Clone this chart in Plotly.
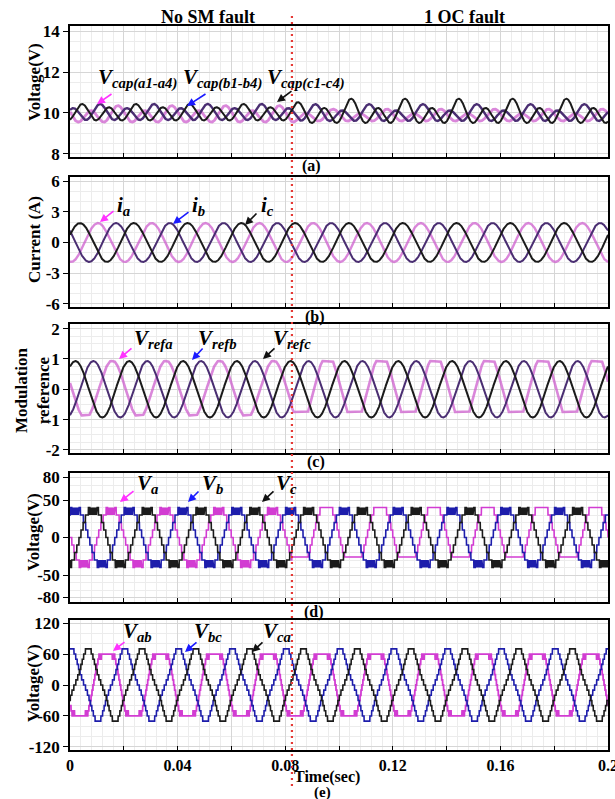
import numpy as np
import plotly.graph_objects as go

W, H = 615, 799

# ---------------- values ----------------
fundamental_hz = 50.0
time_span = [0.0, 0.2]
fault_time = 0.0825
x_tick_vals = [0.0, 0.02, 0.04, 0.06, 0.08, 0.10, 0.12, 0.14, 0.16, 0.18, 0.20]
x_tick_text = ["0", "", "0.04", "", "0.08", "", "0.12", "", "0.16", "", "0.2"]

# (a) SM capacitor voltages, V   [phase a, phase b, phase c]
cap_dc_pre = [9.9, 10.0, 10.0]
cap_dc_post = [9.85, 9.95, 10.0]
cap_peak_time = [0.0178, 0.0112, 0.0045]
cap_ripple_h1_pre = [0.12, 0.10, 0.08]
cap_ripple_h2_pre = [0.34, 0.34, 0.36]
cap_ripple_h1_post = [0.10, 0.15, 0.225]
cap_ripple_h2_post = [0.24, 0.33, 0.475]
cap_y_ticks = [8, 10, 12, 14]

# (b) currents, A   [ia, ib, ic]
current_peak = [1.9, 1.9, 1.9]
current_peak_time = [0.0104, 0.0171, 0.0037]
current_y_ticks = [-6, -3, 0, 3, 6]

# (c) modulation references   [a, b, c]
vref_peak_time = [0.0157, 0.0087, 0.0020]
vref_amp_pre = [0.95, 0.93, 0.93]
vref_amp_post = [1.15, 0.93, 0.93]
vref_max_pre = [0.93, 1.0, 1.0]
vref_min_pre = [-0.86, -1.0, -1.0]
vref_max_post = [0.93, 1.0, 1.0]
vref_min_post = [-0.75, -1.0, -1.0]
vref_y_ticks = [-2, -1, 0, 1, 2]

# (d) phase voltages, V   [Va, Vb, Vc]
phase_v_peak_time = [0.0153, 0.0020, 0.0087]
phase_v_amp_pre = [42, 42, 42]
phase_v_amp_post = [48, 42, 42]
phase_v_max_post = [40, 40, 40]
phase_v_min_post = [-26, -40, -40]
phase_v_block_post = [False, True, True]
phase_v_level_step = 10
phase_v_block_from = 38.5
phase_v_block_levels = [30, 40]
phase_v_y_ticks = [-80, -50, 0, 50, 80]

# (e) line voltages, V   [Vab, Vbc, Vca]
line_v_peak_time = [0.0137, 0.0204, 0.0068]
line_v_amp = [90, 72, 72]
line_v_limit = [60, 70, 70]
line_v_third = [0.0, 1 / 9, 1 / 9]
line_v_notch_band = [[62, 72], None, None]
line_v_notch_level = [50, None, None]
line_v_level_step = 10
line_v_y_ticks = [-120, -60, 0, 60, 120]

# ---------------- waveform construction ----------------
t = np.linspace(time_span[0], time_span[1], 4001)
w = 2 * np.pi * fundamental_hz
pre = t < fault_time
blend = np.clip((t - fault_time) / 0.006, 0, 1)
toggle = (np.arange(t.size) % 2 == 0)


def theta(tp):
    return w * (t - tp)


cap = []
for i in range(3):
    th = theta(cap_peak_time[i])
    v0 = cap_dc_pre[i] + cap_ripple_h1_pre[i] * np.cos(th) + cap_ripple_h2_pre[i] * np.cos(2 * th)
    v1 = cap_dc_post[i] + cap_ripple_h1_post[i] * np.cos(th) + cap_ripple_h2_post[i] * np.cos(2 * th)
    cap.append((1 - blend) * v0 + blend * v1)

cur = [current_peak[i] * np.cos(theta(current_peak_time[i])) for i in range(3)]

vref = []
for i in range(3):
    c = np.cos(theta(vref_peak_time[i]))
    v0 = np.clip(vref_amp_pre[i] * c, vref_min_pre[i], vref_max_pre[i])
    v1 = np.clip(vref_amp_post[i] * c, vref_min_post[i], vref_max_post[i])
    vref.append(np.where(pre, v0, v1))

phv = []
for i in range(3):
    c = np.cos(theta(phase_v_peak_time[i]))
    amp = np.where(pre, phase_v_amp_pre[i], phase_v_amp_post[i])
    x = amp * c
    v = phase_v_level_step * np.round(x / phase_v_level_step)
    v = np.clip(v, -phase_v_block_levels[1], phase_v_block_levels[1])
    blk = np.abs(x) > phase_v_block_from
    if not phase_v_block_post[i]:
        blk = blk & pre
    lev = np.where(toggle, phase_v_block_levels[0], phase_v_block_levels[1])
    v = np.where(blk, np.sign(x) * lev, v)
    v = np.where(pre, v, np.clip(v, phase_v_min_post[i], phase_v_max_post[i]))
    phv.append(v)

linev = []
for i in range(3):
    th = theta(line_v_peak_time[i])
    k = line_v_third[i]
    x = line_v_amp[i] * (np.cos(th) + k * np.cos(3 * th)) / (1 + k)
    v = line_v_level_step * np.round(x / line_v_level_step)
    v = np.clip(v, -line_v_limit[i], line_v_limit[i])
    if line_v_notch_band[i] is not None:
        lo, hi = line_v_notch_band[i]
        nb = (np.abs(x) > lo) & (np.abs(x) < hi)
        v = np.where(nb, np.sign(x) * line_v_notch_level[i], v)
    linev.append(v)

# ---------------- figure ----------------
MAG_SOFT = "rgba(205,95,205,0.75)"
PUR = "#4a2e72"
BLK = "#1b1b1b"
MAG = "#d23cd2"
BLU = "#1d1dab"
FONT = "Liberation Serif"

fig = go.Figure()

series = [
    (cap, [MAG_SOFT, PUR, BLK], [2.8, 2.4, 2.0]),
    (cur, [MAG_SOFT, PUR, BLK], [2.4, 2.0, 2.0]),
    (vref, [MAG_SOFT, PUR, BLK], [2.6, 2.0, 2.0]),
    (phv, [MAG, BLU, BLK], [1.6, 1.6, 1.6]),
    (linev, [MAG, BLU, BLK], [1.8, 1.6, 1.6]),
]
for p, (ys, cols, wids) in enumerate(series):
    for i in range(3):
        fig.add_trace(go.Scatter(
            x=t, y=ys[i], mode="lines",
            line=dict(color=cols[i], width=wids[i]),
            xaxis="x" if p == 0 else f"x{p+1}",
            yaxis="y" if p == 0 else f"y{p+1}",
            showlegend=False, hoverinfo="skip"))


def py(v):
    return 1 - v / H


def px(v):
    return v / W


panel_px = [(26, 157), (177, 307), (324, 453), (473, 602), (620, 750)]
y_ranges = [[7.85, 14.25], [-6.3, 6.4], [-2.1, 2.15], [-86, 86], [-126, 126]]
y_ticks = [cap_y_ticks, current_y_ticks, vref_y_ticks, phase_v_y_ticks, line_v_y_ticks]
y_minor = [0.5, 1, 0.25, 10, 20]

layout = dict(
    width=W, height=H, autosize=False,
    margin=dict(l=0, r=0, t=0, b=0, pad=0, autoexpand=False),
    paper_bgcolor="white", plot_bgcolor="white",
    font=dict(family=FONT, color="black"),
    showlegend=False,
)
xdom = [px(70), px(608)]
for p in range(5):
    xa = dict(
        domain=xdom, range=time_span, anchor="y" if p == 0 else f"y{p+1}",
        automargin=False,
        showline=True, mirror=True, linecolor="black", linewidth=1.6,
        ticks="inside", ticklen=4, tickcolor="black", tickwidth=1.2,
        tickmode="array", tickvals=x_tick_vals,
        ticktext=x_tick_text if p == 4 else [""] * len(x_tick_vals),
        showticklabels=(p == 4), ticklabeloverflow="allow",
        tickfont=dict(family=FONT, size=16, weight="bold"),
        showgrid=True, gridcolor="#d6d6d6", gridwidth=1, zeroline=False,
        minor=dict(tickmode="linear", tick0=0, dtick=0.004, showgrid=True,
                   gridcolor="#ececec", gridwidth=1, ticks=""),
    )
    top, bot = panel_px[p]
    ya = dict(
        domain=[py(bot), py(top)], range=y_ranges[p],
        anchor="x" if p == 0 else f"x{p+1}",
        automargin=False,
        showline=True, mirror=True, linecolor="black", linewidth=1.6,
        ticks="outside", ticklen=5, tickcolor="black", tickwidth=1.2,
        tickmode="array", tickvals=y_ticks[p],
        ticktext=[str(v) for v in y_ticks[p]],
        tickfont=dict(family=FONT, size=17, weight="bold"),
        showgrid=True, gridcolor="#d6d6d6", gridwidth=1, zeroline=False,
        minor=dict(tickmode="linear", tick0=0, dtick=y_minor[p], showgrid=True,
                   gridcolor="#ececec", gridwidth=1, ticks=""),
    )
    layout["xaxis" if p == 0 else f"xaxis{p+1}"] = xa
    layout["yaxis" if p == 0 else f"yaxis{p+1}"] = ya

fig.update_layout(**layout)

fig.add_shape(type="line", xref="x5", yref="paper", x0=fault_time, x1=fault_time,
              y0=py(786), y1=py(12), line=dict(color="#e53935", width=2.2, dash="2px,4px"),
              layer="above")

ann = []


def text(x, y, s, size=16, angle=0):
    ann.append(dict(x=px(x), y=py(y), xref="paper", yref="paper", text=s,
                    showarrow=False, xanchor="center", yanchor="middle",
                    textangle=angle, font=dict(family=FONT, size=size, color="black")))


def arrow(hx, hy, tx, ty, color):
    ann.append(dict(x=px(hx), y=py(hy), xref="paper", yref="paper", text="",
                    showarrow=True, ax=tx - hx, ay=ty - hy, arrowhead=2,
                    arrowsize=1.0, arrowwidth=1.6, arrowcolor=color))


text(208, 17, "<b>No SM fault</b>", 18)
text(464, 17, "<b>1 OC fault</b>", 18)
text(311, 166, "<b>(a)</b>", 16)
text(315, 317, "<b>(b)</b>", 16)
text(316, 462, "<b>(c)</b>", 16)
text(314, 612, "<b>(d)</b>", 16)
text(327, 777, "<b>Time(sec)</b>", 16)
text(323, 792, "<b>(e)</b>", 15)

text(34, 82, "<b>Voltage(V)</b>", 17, -90)
text(34, 240, "<b>Current (A)</b>", 17, -90)
text(32, 390, "<b>Modulation<br>reference</b>", 17, -90)
text(33, 532, "<b>Voltage(V)</b>", 17, -90)
text(33, 683, "<b>Voltage(V)</b>", 17, -90)


def sig(main, sub):
    return f"<b><i>{main}</i></b><sub><b><i>{sub}</i></b></sub>"


arrow_cols = ["#ff33ff", "#1a1aff", "#111111"]
# (a)
for cx, s in zip([137, 222, 306], ["cap(a1-a4)", "cap(b1-b4)", "cap(c1-c4)"]):
    text(cx, 78, sig("V", s), 21)
for (h, tl), c in zip([((97, 104), (113, 93)), ((187, 106), (207, 93)), ((277, 102), (293, 90))], arrow_cols):
    arrow(h[0], h[1], tl[0], tl[1], c)
# (b)
for cx, s in zip([123, 198, 267], ["a", "b", "c"]):
    text(cx, 206, sig("i", s), 21)
for (h, tl), c in zip([((100, 222), (115, 210)), ((173, 224), (190, 211)), ((245, 225), (258, 212))], arrow_cols):
    arrow(h[0], h[1], tl[0], tl[1], c)
# (c)
for cx, s in zip([153, 217, 292], ["refa", "refb", "refc"]):
    text(cx, 339, sig("V", s), 21)
for (h, tl), c in zip([((119, 359), (133, 347)), ((192, 360), (204, 347)), ((263, 359), (276, 347))], arrow_cols):
    arrow(h[0], h[1], tl[0], tl[1], c)
# (d)
for cx, s in zip([147, 212, 286], ["a", "b", "c"]):
    text(cx, 484, sig("V", s), 21)
for (h, tl), c in zip([((120, 502), (135, 490)), ((188, 502), (200, 490)), ((262, 502), (275, 490))], arrow_cols):
    arrow(h[0], h[1], tl[0], tl[1], c)
# (e)
for cx, s in zip([137, 208, 277], ["ab", "bc", "ca"]):
    text(cx, 632, sig("V", s), 21)
for (h, tl), c in zip([((113, 651), (126, 641)), ((185, 652), (198, 641)), ((252, 652), (264, 641))], arrow_cols):
    arrow(h[0], h[1], tl[0], tl[1], c)

fig.update_layout(annotations=ann)
fig.write_html("out.html", config={"displayModeBar": False},
               post_script="document.body.style.margin='0';document.body.style.overflow='hidden';")
